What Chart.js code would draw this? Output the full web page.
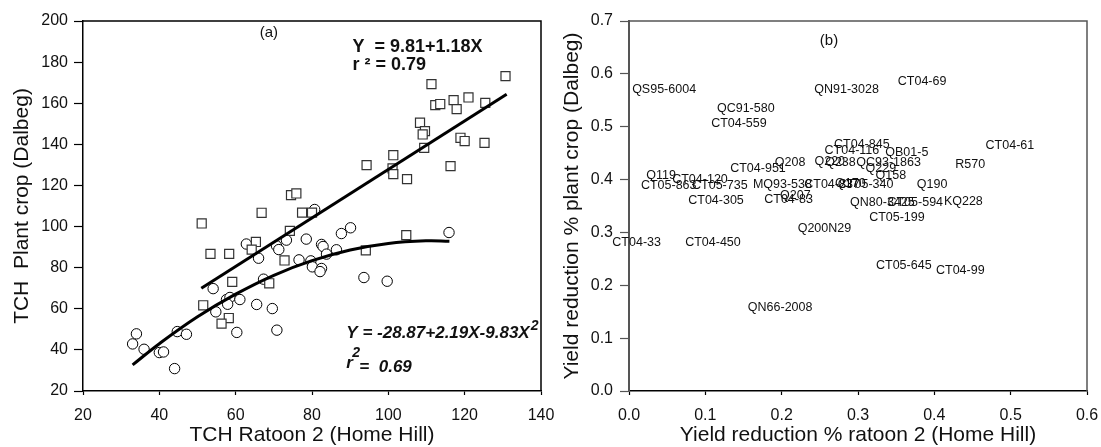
<!DOCTYPE html>
<html lang="en">
<head>
<meta charset="UTF-8">
<title>TCH and yield reduction</title>
<style>
    body { margin: 0; background: #fff; }
    .panel { position: absolute; top: 0; }
    #left { left: 0; }
    #right { left: 550px; }
</style>
</head>
<body>
<div class="panel" id="left"><canvas id="tchChart" width="570" height="447"></canvas></div>
<div class="panel" id="right"><canvas id="redChart" width="551" height="447"></canvas></div>

<script src="https://cdn.jsdelivr.net/npm/chart.js"></script>
<script>
// panel (a): squares
const squareX = [130.7, 111.3, 112.3, 113.6, 117.1, 117.9, 121.0, 125.4, 108.3, 109.6,
                 109.0, 118.9, 120.0, 125.2, 109.4, 101.3, 94.3, 101.1, 101.3, 104.9,
                 116.3, 74.5, 75.9, 77.4, 80.0, 66.8, 51.1, 74.2, 65.3, 64.2,
                 53.4, 58.3, 72.8, 94.1, 59.1, 68.8, 51.5, 58.2, 56.3, 104.7];
const squareY = [173.2, 169.3, 159.1, 159.6, 161.5, 157.1, 162.8, 160.2, 150.5, 146.4,
                 144.8, 143.2, 141.6, 140.7, 138.3, 134.7, 129.9, 128.3, 125.5, 123.1,
                 129.4, 115.3, 116.1, 106.8, 106.8, 106.7, 101.5, 97.9, 92.5, 88.8,
                 86.7, 86.7, 83.5, 88.4, 73.1, 72.4, 61.7, 55.5, 52.8, 95.8];
// panel (a): circles
const circleX = [33.0, 34.0, 36.0, 40.0, 41.1, 44.0, 44.7, 47.1, 54.1, 54.8,
                 57.6, 58.5, 57.9, 61.1, 60.3, 62.8, 66.0, 65.5, 67.3, 69.6,
                 70.7, 71.3, 70.8, 73.3, 78.5, 80.7, 76.6, 79.7, 80.1, 82.5,
                 82.9, 83.8, 82.5, 82.1, 86.4, 87.7, 90.1, 93.6, 99.7, 115.9];
const circleY = [42.9, 47.8, 40.3, 38.7, 39.0, 30.9, 48.9, 47.6, 69.8, 58.5,
                 64.5, 65.5, 62.2, 64.5, 48.5, 91.5, 84.6, 62.1, 74.4, 60.1,
                 90.6, 88.8, 49.6, 93.4, 93.9, 108.3, 83.8, 83.3, 80.4, 91.3,
                 90.3, 86.6, 79.6, 78.1, 88.7, 96.6, 99.4, 75.2, 73.4, 97.1];
// fitted lines
const linearX = [51, 131];
const linearY = [70.0, 164.4];
const curveX = [33, 40, 50, 60, 70, 80, 90, 100, 110, 116];
const curveY = [32.7, 43.0, 56.1, 67.1, 76.3, 83.4, 88.6, 91.8, 93.1, 92.9];

const tchXTicks = [20, 40, 60, 80, 100, 120, 140];
const tchYTicks = [20, 40, 60, 80, 100, 120, 140, 160, 180, 200];

// panel (b): variety labels
const varieties = ['QS95-6004', 'QC91-580', 'CT04-559', 'QN91-3028', 'CT04-69', 'CT04-845',
                   'CT04-116', 'QB01-5', 'CT04-61', 'Q208', 'Q220', 'Q238', 'QC93-1863',
                   'R570', 'CT04-951', 'Q229', 'Q158', 'Q119', 'CT04-120', 'CT05-863',
                   'CT05-735', 'MQ93-538', 'CT04-837', 'Q170', 'CT05-340', 'Q190',
                   'CT04-305', 'CT04-83', 'Q207', 'QN80-3425', 'CT05-594', 'KQ228',
                   'CT05-199', 'Q200', 'N29', 'CT04-33', 'CT04-450', 'QN66-2008',
                   'CT05-645', 'CT04-99'];
const redRatoon = [0.046, 0.153, 0.144, 0.285, 0.384, 0.305,
                   0.292, 0.364, 0.499, 0.211, 0.263, 0.277, 0.340,
                   0.447, 0.169, 0.330, 0.343, 0.042, 0.093, 0.052,
                   0.119, 0.201, 0.266, 0.290, 0.310, 0.397,
                   0.114, 0.209, 0.218, 0.332, 0.375, 0.438,
                   0.351, 0.241, 0.276, 0.010, 0.110, 0.198,
                   0.360, 0.434];
const redPlant = [0.571, 0.535, 0.506, 0.570, 0.585, 0.467,
                  0.455, 0.451, 0.464, 0.432, 0.434, 0.432, 0.432,
                  0.429, 0.421, 0.421, 0.407, 0.407, 0.400, 0.389,
                  0.389, 0.391, 0.391, 0.393, 0.391, 0.390,
                  0.361, 0.363, 0.369, 0.357, 0.357, 0.358,
                  0.328, 0.308, 0.308, 0.280, 0.280, 0.158,
                  0.238, 0.227];
const redXTicks = [0, 0.1, 0.2, 0.3, 0.4, 0.5, 0.6];
const redYTicks = [0, 0.1, 0.2, 0.3, 0.4, 0.5, 0.6, 0.7];

Chart.defaults.font.family = "Arial, 'Liberation Sans', sans-serif";
Chart.defaults.color = '#000';

function pairs(xs, ys) {
    return xs.map((x, i) => ({ x: x, y: ys[i] }));
}

function makeScale(opts) {
    const horiz = opts.horizontal;
    return {
        type: 'linear',
        min: opts.min,
        max: opts.max,
        afterBuildTicks: s => { s.ticks = opts.ticks.map(v => ({ value: v })); },
        afterFit: s => {
            if (horiz) s.height = opts.size; else s.width = opts.size;
            s.paddingLeft = 0; s.paddingRight = 0; s.paddingTop = 0; s.paddingBottom = 0;
        },
        grid: { display: true, drawOnChartArea: false, drawTicks: true,
                tickLength: opts.tickLength, tickColor: opts.borderColor, tickWidth: 1.2 },
        border: { display: true, color: opts.borderColor, width: opts.borderWidth },
        ticks: { font: { size: 16 }, color: '#111', padding: opts.pad, maxRotation: 0,
                 autoSkip: false, callback: opts.fmt },
        title: { display: true, text: opts.title, color: '#111',
                 font: { size: 21, lineHeight: 1 }, padding: opts.titlePad }
    };
}

// top + right edges of the plot box
const frame = {
    id: 'frame',
    afterDraw(chart, args, o) {
        const a = chart.chartArea, ctx = chart.ctx;
        ctx.save();
        ctx.strokeStyle = o.color;
        ctx.lineWidth = o.width;
        ctx.beginPath();
        ctx.moveTo(a.left, a.top);
        ctx.lineTo(a.right, a.top);
        ctx.lineTo(a.right, a.bottom);
        ctx.stroke();
        ctx.restore();
    }
};

// equations and panel letter for (a)
const notesA = {
    id: 'notesA',
    afterDraw(chart) {
        const ctx = chart.ctx, xs = chart.scales.x, ys = chart.scales.y;
        const px = v => xs.getPixelForValue(v), py = v => ys.getPixelForValue(v);
        ctx.save();
        ctx.fillStyle = '#111';
        ctx.textBaseline = 'middle';
        ctx.textAlign = 'center';
        ctx.font = "15px Arial, 'Liberation Sans', sans-serif";
        ctx.fillText('(a)', px(68.7), py(194.1));

        ctx.textAlign = 'left';
        ctx.font = "bold 18px Arial, 'Liberation Sans', sans-serif";
        ctx.fillText('Y  = 9.81+1.18X', px(90.6), py(187.5));
        ctx.fillText('r \u00b2 = 0.79', px(90.6), py(178.6));

        ctx.font = "italic bold 17px Arial, 'Liberation Sans', sans-serif";
        const eq = 'Y = -28.87+2.19X-9.83X';
        const ex = px(89), ey = py(47.9);
        ctx.fillText(eq, ex, ey);
        const w = ctx.measureText(eq).width;
        ctx.font = "italic bold 14px Arial, 'Liberation Sans', sans-serif";
        ctx.fillText('2', ex + w + 1, ey - 8);

        ctx.font = "italic bold 17px Arial, 'Liberation Sans', sans-serif";
        ctx.fillText('r', px(89), py(33.5));
        ctx.font = "italic bold 14px Arial, 'Liberation Sans', sans-serif";
        ctx.fillText('2', px(89) + 6, py(38.5));
        ctx.font = "italic bold 17px Arial, 'Liberation Sans', sans-serif";
        ctx.fillText('=  0.69', px(89) + 13, py(31.6));
        ctx.restore();
    }
};

// variety names written at each point of (b)
const labelsB = {
    id: 'labelsB',
    afterDatasetsDraw(chart) {
        const ctx = chart.ctx;
        const meta = chart.getDatasetMeta(0);
        ctx.save();
        ctx.fillStyle = '#111';
        ctx.font = "12.5px Arial, 'Liberation Sans', sans-serif";
        ctx.textAlign = 'center';
        ctx.textBaseline = 'middle';
        meta.data.forEach((p, i) => ctx.fillText(varieties[i], p.x, p.y));
        ctx.font = "15px Arial, 'Liberation Sans', sans-serif";
        ctx.fillText('(b)', chart.scales.x.getPixelForValue(0.262), chart.scales.y.getPixelForValue(0.662));
        ctx.restore();
    }
};

new Chart(document.getElementById('tchChart'), {
    type: 'scatter',
    data: {
        datasets: [
            { label: 'linear', type: 'line', data: pairs(linearX, linearY), borderColor: '#000',
              borderWidth: 3, pointRadius: 0, fill: false, order: 0 },
            { label: 'quadratic', type: 'line', data: pairs(curveX, curveY), borderColor: '#000',
              borderWidth: 3, pointRadius: 0, fill: false, tension: 0.4, order: 0 },
            { label: 'circles', data: pairs(circleX, circleY), pointStyle: 'circle', pointRadius: 5.2,
              backgroundColor: '#fff', borderColor: '#000', borderWidth: 1, order: 2 },
            { label: 'squares', data: pairs(squareX, squareY), pointStyle: 'rect', pointRadius: 6.4,
              backgroundColor: '#fff', borderColor: '#333', borderWidth: 1.2, order: 1 }
        ]
    },
    options: {
        responsive: false,
        animation: false,
        layout: { padding: { top: 21, right: 29, bottom: 0, left: 0 } },
        plugins: { legend: { display: false }, tooltip: { enabled: false }, frame: { color: '#000', width: 1.5 } },
        scales: {
            x: makeScale({ horizontal: true, min: 20, max: 140, ticks: tchXTicks, size: 56,
                           tickLength: 4, pad: 11, borderColor: '#000', borderWidth: 1.5,
                           fmt: v => String(v), title: 'TCH Ratoon 2 (Home Hill)',
                           titlePad: { top: 0, bottom: 1 } }),
            y: makeScale({ horizontal: false, min: 20, max: 200, ticks: tchYTicks, size: 83,
                           tickLength: 9, pad: 6, borderColor: '#000', borderWidth: 1.5,
                           fmt: v => String(v), title: 'TCH  Plant crop (Dalbeg)',
                           titlePad: { top: 12, bottom: 0 } })
        }
    },
    plugins: [frame, notesA]
});

new Chart(document.getElementById('redChart'), {
    type: 'scatter',
    data: {
        datasets: [
            { label: 'varieties', data: pairs(redRatoon, redPlant), pointRadius: 0 }
        ]
    },
    options: {
        responsive: false,
        animation: false,
        layout: { padding: { top: 21, right: 14, bottom: 0, left: 0 } },
        plugins: { legend: { display: false }, tooltip: { enabled: false }, frame: { color: '#555', width: 1.5 } },
        scales: {
            x: makeScale({ horizontal: true, min: 0, max: 0.6, ticks: redXTicks, size: 56,
                           tickLength: 4, pad: 11, borderColor: '#000', borderWidth: 1.5,
                           fmt: v => v.toFixed(1), title: 'Yield reduction % ratoon 2 (Home Hill)',
                           titlePad: { top: 0, bottom: 1 } }),
            y: makeScale({ horizontal: false, min: 0, max: 0.7, ticks: redYTicks, size: 79,
                           tickLength: 9, pad: 7, borderColor: '#555', borderWidth: 2,
                           fmt: v => v.toFixed(1), title: 'Yield reduction % plant crop (Dalbeg)',
                           titlePad: { top: 12, bottom: 0 } })
        }
    },
    plugins: [frame, labelsB]
});
</script>
</body>
</html>
